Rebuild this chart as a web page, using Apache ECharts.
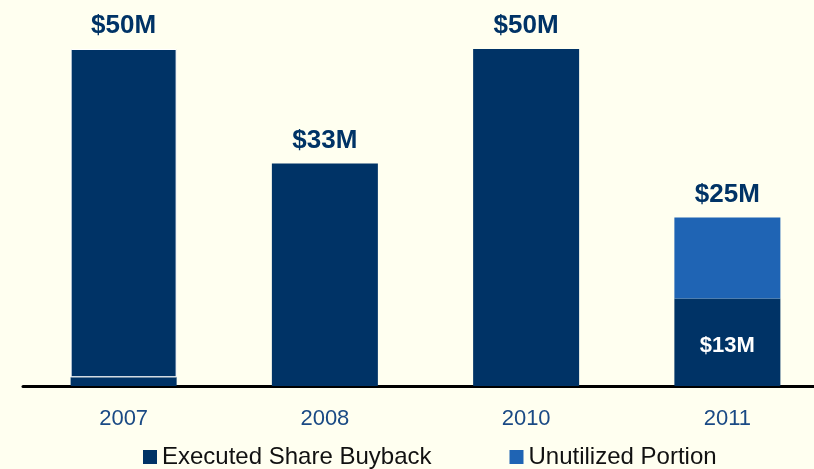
<!DOCTYPE html>
<html>
<head>
<meta charset="utf-8">
<script src="https://cdn.jsdelivr.net/npm/echarts@6/dist/echarts.min.js"></script>
<style>
  html, body { margin: 0; padding: 0; background: #fffff0; }
  #chart { width: 814px; height: 469px; }
</style>
</head>
<body>
<div id="chart"></div>
<script>
var years = ['2007', '2008', '2010', '2011'];
var executed = [1.3, 33, 50, 13];
var unutilized = [48.7, 0, 0, 12];
var totalLabels = ['$50M', '$33M', '$50M', '$25M'];
var executedLabel = '$13M';

var navy = '#003366';
var lightBlue = '#1f64b4';

var chart = echarts.init(document.getElementById('chart'));

// executed series: labels on top of 2008/2010, inside for 2011
var execData = executed.map(function (v, i) {
  var item = { value: v };
  if (i === 1 || i === 2) {
    item.label = { show: true, position: 'top', distance: 10, formatter: totalLabels[i] };
  } else if (i === 3) {
    item.label = { show: true, position: 'inside', color: '#fff', fontSize: 22, formatter: executedLabel, offset: [0, 4] };
  }
  return item;
});

var unusedData = unutilized.map(function (v, i) {
  var item = { value: v || null };
  if (i === 0) {
    // 2007 shown in the same dark colour, split by a thin white line
    item.itemStyle = { color: navy, borderColor: '#ffffff', borderWidth: 1 };
  }
  if (v) {
    item.label = { show: true, position: 'top', distance: 10, formatter: totalLabels[i] };
  }
  return item;
});

var option = {
  backgroundColor: '#fffff0',
  animation: false,
  textStyle: { fontFamily: 'Liberation Sans, Arial, sans-serif' },
  grid: { left: 23, width: 805, top: 49, bottom: 83, outerBoundsMode: 'none', containLabel: false },
  legend: {
    left: 143,
    top: 445,
    icon: 'rect',
    itemWidth: 14,
    itemHeight: 14,
    itemGap: 78,
    padding: 0,
    textStyle: { fontSize: 24, color: '#111', fontFamily: 'Liberation Sans, Arial, sans-serif' },
    data: ['Executed Share Buyback', 'Unutilized Portion']
  },
  xAxis: {
    type: 'category',
    data: years,
    axisLine: { lineStyle: { color: '#000', width: 3 } },
    axisTick: { show: false },
    axisLabel: { fontSize: 22, color: '#1a4a84', margin: 22 }
  },
  yAxis: {
    type: 'value',
    min: 0,
    max: 50,
    show: false
  },
  series: [{
    name: 'Executed Share Buyback',
    type: 'bar',
    stack: 'total',
    barWidth: 106,
    itemStyle: { color: navy },
    label: { fontSize: 26, fontWeight: 'bold', color: navy },
    data: execData
  }, {
    name: 'Unutilized Portion',
    type: 'bar',
    stack: 'total',
    barWidth: 106,
    itemStyle: { color: lightBlue },
    label: { fontSize: 26, fontWeight: 'bold', color: navy },
    data: unusedData
  }]
};

chart.setOption(option);
</script>
</body>
</html>
